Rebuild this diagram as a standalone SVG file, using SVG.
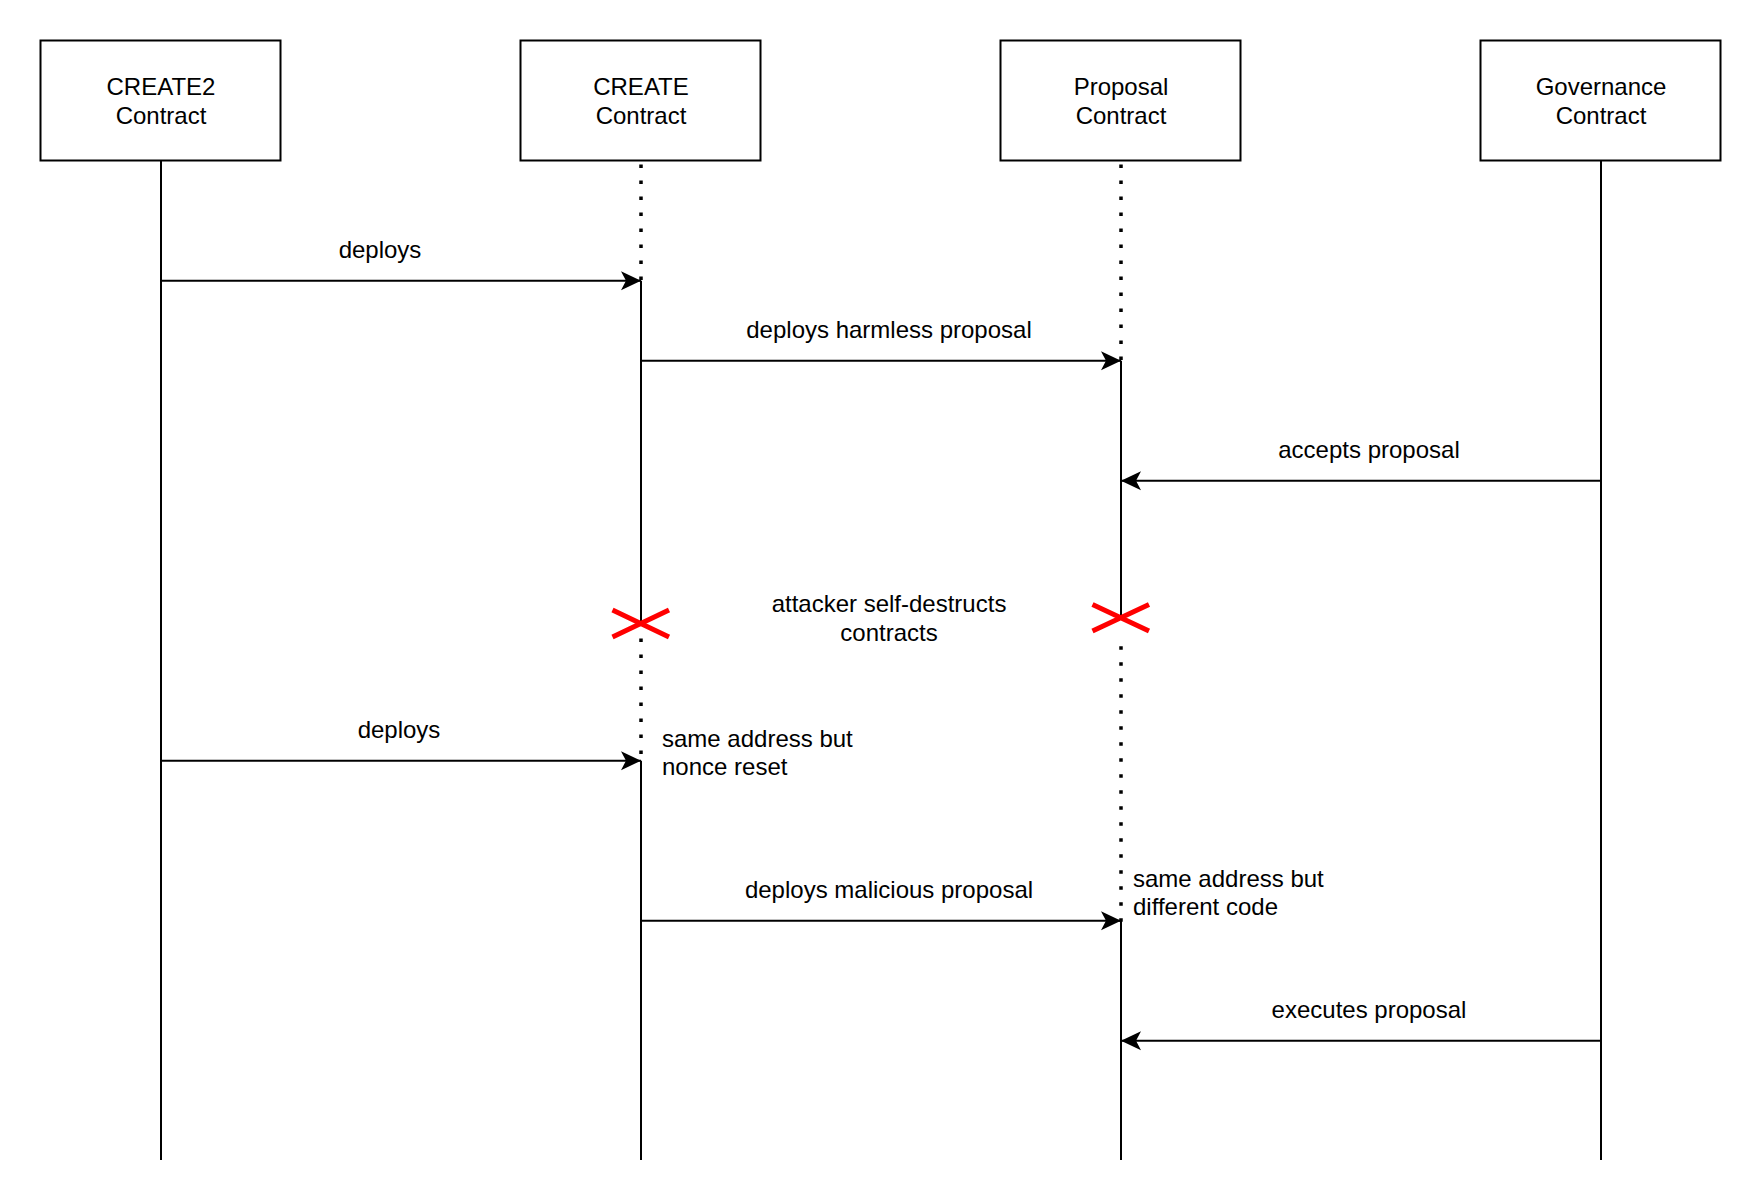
<svg xmlns="http://www.w3.org/2000/svg" width="1762" height="1204" viewBox="0 0 1762 1204">
<style>
.box{fill:#fff;stroke:#000;stroke-width:2}
.life{stroke:#000;stroke-width:2;fill:none}
.dot{stroke:#000;stroke-width:3.5;stroke-dasharray:3.5 12.5;fill:none}
.msg{stroke:#000;stroke-width:2;fill:none;marker-end:url(#arr)}
.x{stroke:#ff0000;stroke-width:5;fill:none}
text{font-family:"Liberation Sans",Arial,sans-serif;font-size:24px;fill:#000}
.c{text-anchor:middle}
</style>
<defs>
<marker id="arr" markerUnits="userSpaceOnUse" markerWidth="22" markerHeight="22" viewBox="-21 -11 22 22" refX="0" refY="0" orient="auto">
<path d="M0,0 L-20,-9.5 L-15,0 L-20,9.5 Z" fill="#000"/>
</marker>
</defs>
<rect width="1762" height="1204" fill="#fff"/>
<g id="lifelines">
<path class="life" d="M161,160.7 V1160"/>
<path class="dot" d="M641,164.5 V280"/>
<path class="life" d="M641,280.7 V623"/>
<path class="dot" d="M641,638.5 V754"/>
<path class="life" d="M641,760.7 V1160"/>
<path class="dot" d="M1121,164.5 V360"/>
<path class="life" d="M1121,360.7 V617.7"/>
<path class="dot" d="M1121,646.2 V922"/>
<path class="life" d="M1121,920.7 V1160"/>
<path class="life" d="M1601,160.7 V1160"/>
</g>
<g id="create2">
<rect class="box" x="40.5" y="40.5" width="240" height="120"/>
<text class="c" x="161" y="95">CREATE2</text>
<text class="c" x="161" y="124">Contract</text>
</g>
<g id="create">
<rect class="box" x="520.5" y="40.5" width="240" height="120"/>
<text class="c" x="641" y="95">CREATE</text>
<text class="c" x="641" y="124">Contract</text>
</g>
<g id="proposal">
<rect class="box" x="1000.5" y="40.5" width="240" height="120"/>
<text class="c" x="1121" y="95">Proposal</text>
<text class="c" x="1121" y="124">Contract</text>
</g>
<g id="governance">
<rect class="box" x="1480.5" y="40.5" width="240" height="120"/>
<text class="c" x="1601" y="95">Governance</text>
<text class="c" x="1601" y="124">Contract</text>
</g>
<g id="destroy-create">
<path class="x" d="M612.5,610 L669,637 M612.5,637 L669,610"/>
</g>
<g id="destroy-proposal">
<path class="x" d="M1092.5,604.5 L1149,631 M1092.5,631 L1149,604.5"/>
</g>
<g id="connectors">
<path class="msg" d="M161,280.7 H641"/>
<path class="msg" d="M641,360.7 H1121"/>
<path class="msg" d="M1601,480.7 H1121"/>
<path class="msg" d="M161,760.7 H641"/>
<path class="msg" d="M641,920.7 H1121"/>
<path class="msg" d="M1601,1040.7 H1121"/>
</g>
<g id="labels">
<text class="c" x="380" y="258">deploys</text>
<text class="c" x="889" y="338">deploys harmless proposal</text>
<text class="c" x="1369" y="458">accepts proposal</text>
<text class="c" x="889" y="612">attacker self-destructs</text>
<text class="c" x="889" y="641">contracts</text>
<text class="c" x="399" y="738">deploys</text>
<text x="662" y="747">same address but</text>
<text x="662" y="775">nonce reset</text>
<text class="c" x="889" y="898">deploys malicious proposal</text>
<text x="1133" y="887">same address but</text>
<text x="1133" y="915">different code</text>
<text class="c" x="1369" y="1018">executes proposal</text>
</g>
</svg>
